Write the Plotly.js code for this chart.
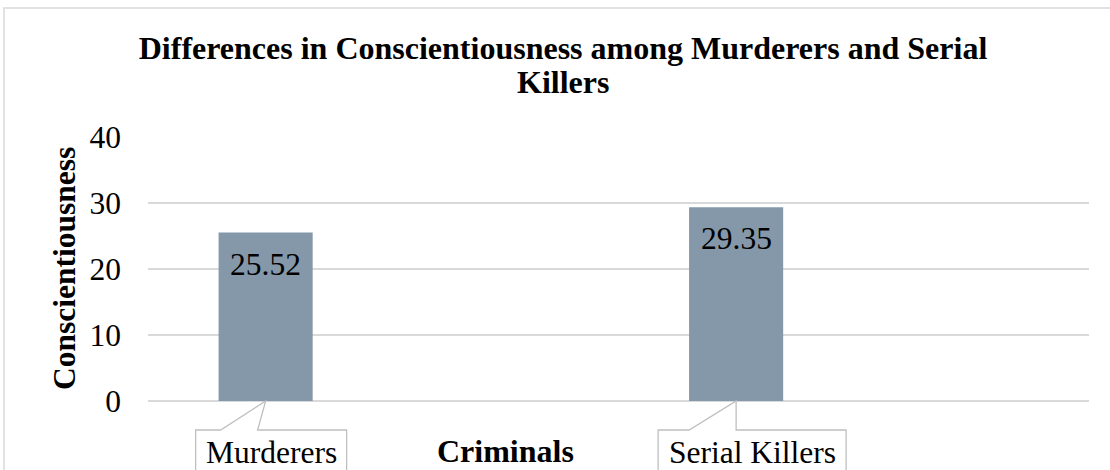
<!DOCTYPE html>
<html>
<head>
<meta charset="utf-8">
<script src="https://cdn.plot.ly/plotly-3.0.1.min.js"></script>
<style>html,body{margin:0;padding:0;background:#fff;}#chart{width:1110px;height:470px;}</style>
</head>
<body>
<div id="chart"></div>
<script>
// ---- data ----
const categories = ["Murderers", "Serial Killers"];
const values = [25.52, 29.35];
const yTicks = [0, 10, 20, 30, 40];
const titleLines = ["Differences in Conscientiousness among Murderers and Serial", "Killers"];
const xTitle = "Criminals";
const yTitle = "Conscientiousness";

// ---- layout helpers ----
const FONT = "'Liberation Serif', 'Times New Roman', serif";
const FS = 31.5;
const L = 148, R = 21, T = 137, B = 69, W = 1110, H = 470;
const plotW = W - L - R, plotH = H - T - B;
const slotW = plotW / 4;               // axis holds 4 slots, bars sit in slots 0 and 2
const xpos = categories.map((c, i) => i * 2);
const px2dx = p => p / slotW;          // pixel offset -> data offset
const py2paper = p => -(p) / plotH;    // pixels below plot bottom -> paper y

// callout geometry (pixel offsets relative to bar centre)
const callouts = [
  {left: -70, right: 81, baseL: -45, baseR: -8},
  {left: -78, right: 110, baseL: -47, baseR: 0}
];
const boxTop = py2paper(29);
const boxBot = py2paper(90);

const shapes = [];
const annotations = [];

// outer chart frame
shapes.push({type: 'rect', xref: 'paper', yref: 'paper', layer: 'below',
  x0: (4 - L) / plotW, x1: (W + 20 - L) / plotW,
  y0: (H - B - 8) / plotH, y1: -(B + 20) / plotH,
  line: {color: '#d9d9d9', width: 1.5}, fillcolor: 'rgba(0,0,0,0)'});

categories.forEach((c, i) => {
  const cx = xpos[i];
  const g = callouts[i];
  const lx = cx + px2dx(g.left), rx = cx + px2dx(g.right);
  const bl = cx + px2dx(g.baseL), br = cx + px2dx(g.baseR);
  shapes.push({type: 'path', xref: 'x', yref: 'paper', layer: 'above',
    path: `M ${lx},${boxBot} L ${lx},${boxTop} L ${bl},${boxTop} L ${cx},0 L ${br},${boxTop} L ${rx},${boxTop} L ${rx},${boxBot} Z`,
    fillcolor: '#ffffff', line: {color: '#bfbfbf', width: 1.3}});
  annotations.push({xref: 'x', yref: 'paper', x: (lx + rx) / 2, y: py2paper(51),
    text: c, showarrow: false, xanchor: 'center', yanchor: 'middle',
    font: {family: FONT, size: FS, color: '#000'}});
  // data label
  annotations.push({xref: 'x', yref: 'y', x: cx, y: values[i], yanchor: 'top', yshift: -12,
    text: values[i].toFixed(2), showarrow: false,
    font: {family: FONT, size: FS, color: '#000'}});
});

// title second line
annotations.push({xref: 'paper', yref: 'paper', x: (563 - L) / plotW, y: (H - B - 82) / plotH,
  text: '<b>' + titleLines[1] + '</b>', showarrow: false, xanchor: 'center', yanchor: 'middle',
  font: {family: FONT, size: 32, color: '#000'}});
// x axis title
annotations.push({xref: 'paper', yref: 'paper', x: (505 - L) / plotW, y: py2paper(50),
  text: '<b>' + xTitle + '</b>', showarrow: false, xanchor: 'center', yanchor: 'middle',
  font: {family: FONT, size: 32, color: '#000'}});
// y axis title
annotations.push({xref: 'paper', yref: 'paper', x: (64 - L) / plotW, y: 0.5,
  text: '<b>' + yTitle + '</b>', showarrow: false, textangle: -90, xanchor: 'center', yanchor: 'middle',
  font: {family: FONT, size: 31.5, color: '#000'}});

const trace = {
  type: 'bar', x: xpos, y: values, width: 0.4,
  marker: {color: '#8598aa', line: {width: 0}},
  hoverinfo: 'skip'
};

const layout = {
  width: W, height: H,
  margin: {l: L, r: R, t: T, b: B, pad: 0},
  paper_bgcolor: '#fff', plot_bgcolor: '#fff',
  showlegend: false,
  title: {text: '<b>' + titleLines[0] + '</b>', xref: 'container', yref: 'container',
    x: 563 / W, xanchor: 'center', y: 1 - 48 / H, yanchor: 'middle',
    font: {family: FONT, size: 32, color: '#000'}},
  xaxis: {range: [-0.5, 3.5], showticklabels: false, showgrid: false, zeroline: false,
    showline: false, ticks: '', fixedrange: true},
  yaxis: {range: [0, 40], tickvals: yTicks, ticktext: yTicks.map(String), ticks: '',
    showgrid: true, gridcolor: '#d9d9d9', gridwidth: 1.3,
    zeroline: true, zerolinecolor: '#d9d9d9', zerolinewidth: 1.3, showline: false,
    ticklabelstandoff: 26,
    tickfont: {family: FONT, size: FS, color: '#000'}, fixedrange: true},
  shapes: shapes,
  annotations: annotations
};

Plotly.newPlot('chart', [trace], layout, {displayModeBar: false, staticPlot: true});
</script>
</body>
</html>
